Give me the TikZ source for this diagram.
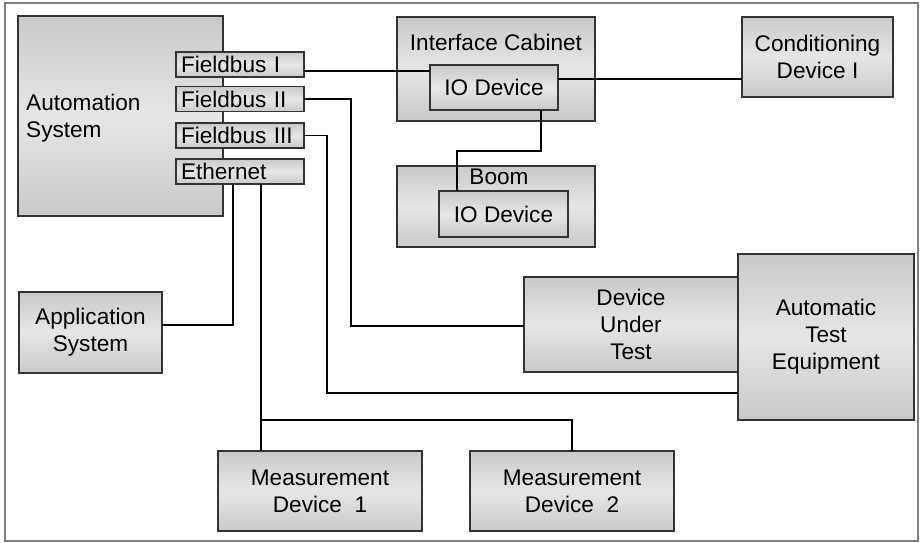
\documentclass[tikz,border=0pt]{standalone}
\usepackage{fontspec}
\setmainfont{Liberation Sans}
\usetikzlibrary{calc}

\definecolor{boxedge}{HTML}{333333}
\definecolor{boxouter}{HTML}{C9C9C9}
\definecolor{boxinner}{HTML}{E6E6E6}
\definecolor{framegray}{HTML}{7F7F7F}

\tikzset{
  unit/.style={draw=boxedge, line width=1.2pt, rectangle, outer sep=0pt,
    top color=boxouter, bottom color=boxouter, middle color=boxinner,
    align=center, inner sep=0pt,
    font=\fontsize{22.6}{27}\selectfont},
  port/.style={unit, text width=118pt, align=left, inner xsep=5pt,
    minimum width=128pt, minimum height=25pt, text depth=0pt},
  caption/.style={inner sep=0pt, font=\fontsize{22.6}{27}\selectfont, align=left},
  wire/.style={draw=black, line width=1.6pt},
}

\begin{document}
\begin{tikzpicture}[x=1pt, y=-1pt]
  \useasboundingbox (0,0) rectangle (921,543);
  \draw[framegray, line width=1.5pt] (5,3) rectangle (918,541);

  % automation system and its ports
  \node[unit, minimum width=205pt, minimum height=200pt] (auto) at (120.5,116) {};
  \node[caption, anchor=west] (autolbl) at ([xshift=8pt, yshift=-2.5pt]auto.west) {Automation\\System};
  \node[port] (fb1) at (240,64.5) {Fieldbus I};
  \node[port] (fb2) at (240,99) {Fieldbus II};
  \node[port] (fb3) at (240,135.5) {Fieldbus III};
  \node[port] (eth) at (240,171.5) {Ethernet};

  % interface cabinet
  \node[unit, minimum width=198pt, minimum height=104pt] (cab) at (496,69) {};
  \node[caption] (cablbl) at (496,42) {Interface Cabinet};
  \node[unit, minimum width=128pt, minimum height=45pt] (iocab) at (494,87.5) {IO Device};

  % boom
  \node[unit, minimum width=198pt, minimum height=81pt] (boom) at (496,206.5) {};
  \node[caption] (boomlbl) at (499,177) {Boom};
  \node[unit, minimum width=129pt, minimum height=46pt] (boomio) at (503.5,214) {IO Device};

  % other devices
  \node[unit, minimum width=151pt, minimum height=80pt] (cond) at (817.5,57) {Conditioning\\Device I};
  \node[unit, minimum width=176pt, minimum height=166pt] (ate) at (826,337) {Automatic\\Test\\Equipment};
  \node[unit, minimum width=214pt, minimum height=95pt] (dut) at (631,324.5) {Device\\Under\\Test};
  \node[unit, minimum width=143pt, minimum height=81pt] (app) at (90.5,332.5) {Application\\System};
  \node[unit, minimum width=204pt, minimum height=80pt] (md1) at (320,491) {Measurement\\Device\ \ 1};
  \node[unit, minimum width=204pt, minimum height=80pt] (md2) at (572,491) {Measurement\\Device\ \ 2};

  % connections
  \draw[wire, line width=2pt] ([yshift=-6.5pt]fb1.east) coordinate (f1) -- (f1 -| iocab.west);
  \draw[wire] ([yshift=8.5pt]iocab.east) coordinate (c1) -- (c1 -| cond.west);
  \draw[wire] ([xshift=47pt]iocab.south) -- ++(0,41) -| ([xshift=-46.5pt]boomio.north);
  \draw[wire] (fb2.east) -- ++(47,0) |- ([yshift=-1.5pt]dut.west);
  \draw[wire] (fb3.east) -- ++(23,0) |- ([yshift=-56pt]ate.west);
  \draw[wire] ([xshift=-7pt]eth.south) |- ([yshift=7.5pt]app.east);
  \draw[wire] ([xshift=21pt]eth.south) coordinate (e2) -- (e2 |- md1.north);
  \path (md2.north) ++(0,-31) coordinate (tap);
  \draw[wire] (md2.north) -- (tap) -- (tap -| e2);
\end{tikzpicture}
\end{document}
